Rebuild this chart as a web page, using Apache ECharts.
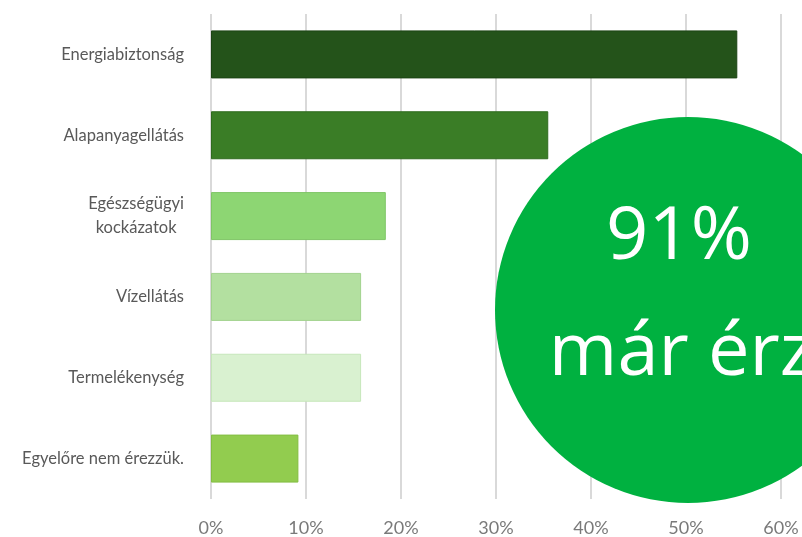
<!DOCTYPE html>
<html>
<head>
<meta charset="utf-8">
<script src="https://cdn.jsdelivr.net/npm/echarts@6/dist/echarts.min.js"></script>
<style>
  html, body { margin: 0; padding: 0; background: #fff; }
  #chart { width: 802px; height: 537px; }
</style>
</head>
<body>
<div id="chart"></div>
<script>
// kategóriák felülről lefelé
const categories = [
  "Energiabiztonság",
  "Alapanyagellátás",
  "Egészségügyi\nkockázatok",
  "Vízellátás",
  "Termelékenység",
  "Egyelőre nem érezzük."
];
const values = [55.4, 35.5, 18.4, 15.8, 15.8, 9.2];
const barColors = ["#24531a", "#3a7d26", "#8dd673", "#b3e0a0", "#d9f1d0", "#92cc4f"];
const borderColors = ["#1c4414", "#2f6b1f", "#7fc566", "#a2d28e", "#c6e6ba", "#84bd43"];
const tickLabels = ["0%", "10%", "20%", "30%", "40%", "50%", "60%"];
const bubbleValue = "91%";
const bubbleText = "már érzi";

let myChart = echarts.init(document.getElementById("chart"));
let option = {
  backgroundColor: "#fff",
  animation: false,
  grid: {
    left: 211,
    top: 14,
    width: 570,
    height: 486,
    containLabel: false
  },
  xAxis: {
    type: "value",
    min: 0,
    max: 60,
    interval: 10,
    axisLine: { show: false },
    axisTick: { show: false },
    splitLine: {
      show: true,
      lineStyle: { color: "#d9d9d9", width: 2 }
    },
    axisLabel: {
      margin: 20,
      color: "#7a7a7a",
      fontFamily: "Lato",
      fontSize: 18,
      formatter: function (v) {
        return tickLabels[Math.round(v / 10)];
      }
    }
  },
  yAxis: {
    type: "category",
    inverse: true,
    data: categories,
    axisLine: { show: false },
    axisTick: { show: false },
    axisLabel: {
      margin: 27,
      color: "#595959",
      fontFamily: "Lato",
      fontSize: 16.5,
      lineHeight: 24,
      formatter: function (v) {
        return v.split("\n").map(s => "{c|" + s + "}").join("\n");
      },
      rich: {
        c: { align: "center", color: "#595959", fontFamily: "Lato", fontSize: 16.5, lineHeight: 24 }
      }
    }
  },
  series: [
    {
      type: "bar",
      barWidth: 48,
      data: values.map((v, i) => ({
        value: v,
        itemStyle: { color: barColors[i], borderColor: borderColors[i], borderWidth: 1 }
      }))
    }
  ],
  graphic: [
    {
      type: "circle",
      shape: { cx: 688, cy: 310, r: 193 },
      style: { fill: "#00b140" },
      z: 100
    },
    {
      type: "text",
      x: 679,
      y: 238,
      z: 101,
      style: {
        text: bubbleValue,
        fill: "#fff",
        font: "74px 'Open Sans'",
        align: "center",
        verticalAlign: "middle"
      }
    },
    {
      type: "text",
      x: 691,
      y: 354,
      z: 101,
      style: {
        text: bubbleText,
        fill: "#fff",
        font: "74px 'Open Sans'",
        align: "center",
        verticalAlign: "middle"
      }
    }
  ]
};
myChart.setOption(option);
window.addEventListener("resize", function () {
  myChart.resize();
});
</script>
</body>
</html>
